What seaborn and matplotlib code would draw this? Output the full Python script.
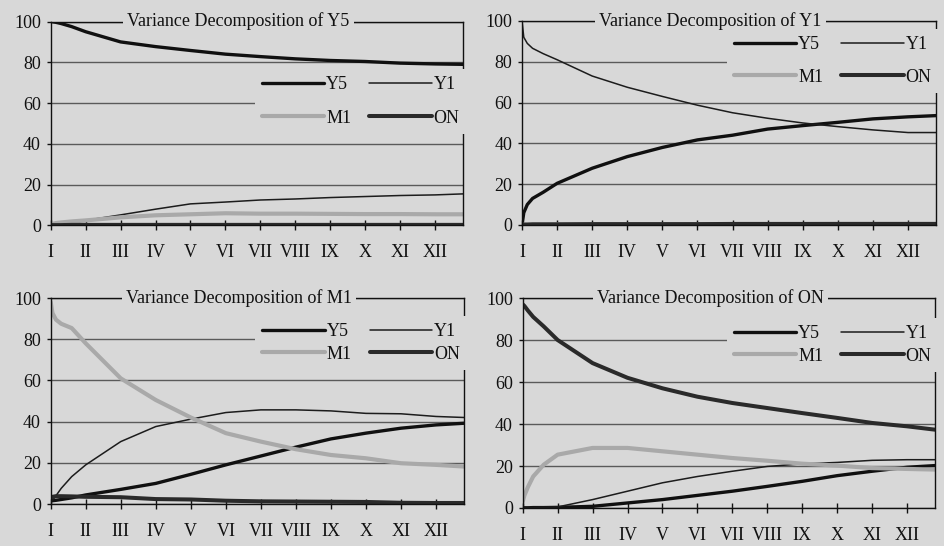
import numpy as np
import pandas as pd
import matplotlib
matplotlib.use("Agg")
import matplotlib.pyplot as plt
import seaborn as sns

# ---- data -------------------------------------------------------------
periods = [0, 0.05, 0.15, 0.3, 0.6, 1, 2, 3, 4, 5, 6, 7, 8, 9, 10, 11, 11.8]
tick_labels = ["I", "II", "III", "IV", "V", "VI", "VII", "VIII", "IX", "X", "XI", "XII"]
series_names = ["Y5", "Y1", "M1", "ON"]

# Variance decomposition of Y5
y5_Y5 = [100, 99.9, 99.6, 99, 97.5, 95, 90, 87.7, 85.8, 84, 82.8, 81.7, 80.9, 80.4, 79.6, 79.2, 79]
y5_Y1 = [0.3, 0.3, 0.4, 0.6, 1.2, 2.5, 5.2, 8, 10.6, 11.5, 12.5, 13, 13.7, 14.2, 14.7, 15, 15.5]
y5_M1 = [0.5, 0.8, 1.2, 1.5, 2, 2.5, 4, 5, 5.5, 6, 5.8, 5.8, 5.7, 5.6, 5.6, 5.5, 5.5]
y5_ON = [0.2, 0.2, 0.2, 0.2, 0.3, 0.3, 0.3, 0.3, 0.3, 0.3, 0.3, 0.3, 0.3, 0.3, 0.3, 0.3, 0.3]

# Variance decomposition of Y1
y1_Y5 = [0, 6, 10, 13, 16, 20.4, 27.8, 33.5, 38, 41.7, 44, 47, 48.7, 50.3, 52, 53, 53.6]
y1_Y1 = [100, 92, 89, 86.6, 84, 81, 73, 67.5, 63, 58.7, 55, 52.3, 50, 48.2, 46.6, 45.3, 45.3]
y1_M1 = [0, 0.1, 0.1, 0.2, 0.2, 0.3, 0.3, 0.3, 0.3, 0.4, 0.4, 0.4, 0.4, 0.5, 0.5, 0.5, 0.5]
y1_ON = [0, 0.2, 0.2, 0.3, 0.3, 0.3, 0.4, 0.4, 0.4, 0.4, 0.5, 0.5, 0.5, 0.5, 0.5, 0.5, 0.5]

# Variance decomposition of M1
m1_Y5 = [1.5, 1.6, 1.8, 2.2, 3, 4.4, 7.1, 10, 14.4, 19, 23.3, 27.6, 31.6, 34.4, 36.8, 38.4, 39.2]
m1_Y1 = [1, 1.8, 4, 7.6, 13.3, 19, 30.3, 37.6, 41.2, 44.4, 45.7, 45.7, 45.2, 44, 43.8, 42.5, 42]
m1_M1 = [98, 92.7, 89.5, 87.5, 85.4, 78, 61, 50.5, 42, 34.4, 30.3, 26.6, 23.8, 22.2, 19.8, 19, 18.2]
m1_ON = [3, 3.5, 3.8, 3.8, 3.7, 3.5, 3.3, 2.4, 2.2, 1.6, 1.3, 1.2, 1.1, 1.0, 0.6, 0.5, 0.5]

# Variance decomposition of ON
on_Y5 = [0.1, 0.1, 0.1, 0.2, 0.2, 0.3, 0.8, 2.4, 4, 6, 8, 10.3, 12.7, 15.4, 17.5, 19.4, 20.2]
on_Y1 = [0.2, 0.2, 0.2, 0.3, 0.4, 0.5, 4, 8, 12, 15, 17.5, 19.8, 21, 21.7, 22.7, 23, 23]
on_M1 = [3, 6, 10, 15, 20.6, 25.4, 28.6, 28.6, 27, 25.4, 23.8, 22.5, 21.1, 20.2, 19, 18.6, 18.3]
on_ON = [97, 96.2, 94, 91, 86.5, 80, 69, 62, 57, 53, 50, 47.6, 45.2, 42.9, 40.5, 38.9, 37.3]

panels = [
    ("Variance Decomposition of Y5", [y5_Y5, y5_Y1, y5_M1, y5_ON]),
    ("Variance Decomposition of Y1", [y1_Y5, y1_Y1, y1_M1, y1_ON]),
    ("Variance Decomposition of M1", [m1_Y5, m1_Y1, m1_M1, m1_ON]),
    ("Variance Decomposition of ON", [on_Y5, on_Y1, on_M1, on_ON]),
]

# ---- style ------------------------------------------------------------
BG = "#d8d8d8"
sns.set_theme(style="white")
plt.rcParams["font.serif"] = ["Liberation Serif", "Times New Roman", "DejaVu Serif"]
plt.rcParams["font.family"] = "serif"
plt.rcParams["axes.facecolor"] = BG
plt.rcParams["figure.facecolor"] = BG

palette = {"Y5": "#101010", "Y1": "#1c1c1c", "M1": "#a9a9a9", "ON": "#2a2a2a"}
widths = {"Y5": 2.4, "Y1": 1.1, "M1": 3.0, "ON": 2.9}

positions = [
    [0.0537, 0.587, 0.4368, 0.3736],
    [0.5530, 0.588, 0.4386, 0.3736],
    [0.0537, 0.0769, 0.4378, 0.3773],
    [0.5537, 0.0696, 0.4368, 0.3846],
]
legend_tops = [0.767, 0.96, 0.913, 0.905]
legend_spacing = [0.9, 0.85, 0.3, 0.3]

fig = plt.figure(figsize=(9.44, 5.46), dpi=100)
FS = 13

for i, (title, vals) in enumerate(panels):
    ax = fig.add_axes(positions[i])
    rows = []
    for name, v in zip(series_names, vals):
        for x, y in zip(periods, v):
            rows.append({"period": x, "value": y, "series": name})
    df = pd.DataFrame(rows)
    sns.lineplot(data=df, x="period", y="value", hue="series", size="series",
                 hue_order=series_names, size_order=series_names,
                 palette=palette, sizes=widths, estimator=None, sort=False,
                 legend=False, ax=ax)
    ax.set_xlim(0, 11.8)
    ax.set_ylim(0, 100)
    ax.set_xticks(range(12))
    ax.set_xticklabels(tick_labels)
    ax.set_yticks([0, 20, 40, 60, 80, 100])
    ax.set_xlabel("")
    ax.set_ylabel("")
    ax.set_axisbelow(True)
    ax.yaxis.grid(True, color="#5a5a5a", linewidth=1.0)
    ax.xaxis.grid(False)
    for sp in ax.spines.values():
        sp.set_visible(True)
        sp.set_color("#111111")
        sp.set_linewidth(1.0)
    ax.tick_params(axis="x", direction="inout", length=7, width=1, color="#111",
                   pad=10, labelsize=FS, labelcolor="#111")
    ax.tick_params(axis="y", direction="out", length=3, width=1, color="#111",
                   pad=4, labelsize=FS, labelcolor="#111")
    ax.tick_params(left=True, bottom=True)

    ax.text(0.455, 1.0, title, transform=ax.transAxes, ha="center", va="center",
            fontsize=FS, color="#111",
            bbox=dict(facecolor=BG, edgecolor="none", pad=3), zorder=6)

    lines = ax.get_lines()[:4]
    handles = [lines[0], lines[2], lines[1], lines[3]]
    labels = [series_names[0], series_names[2], series_names[1], series_names[3]]
    leg = ax.legend(handles, labels, ncol=2, loc="upper left",
                    bbox_to_anchor=(0.495, legend_tops[i]), borderaxespad=0,
                    borderpad=0.4, handlelength=3.45, handletextpad=0.1,
                    columnspacing=1.0, labelspacing=legend_spacing[i],
                    fontsize=FS, frameon=True, facecolor=BG, edgecolor="none",
                    framealpha=1.0, fancybox=False)
    for t in leg.get_texts():
        t.set_color("#111")

fig.savefig("out.png", dpi=100, facecolor=BG)
